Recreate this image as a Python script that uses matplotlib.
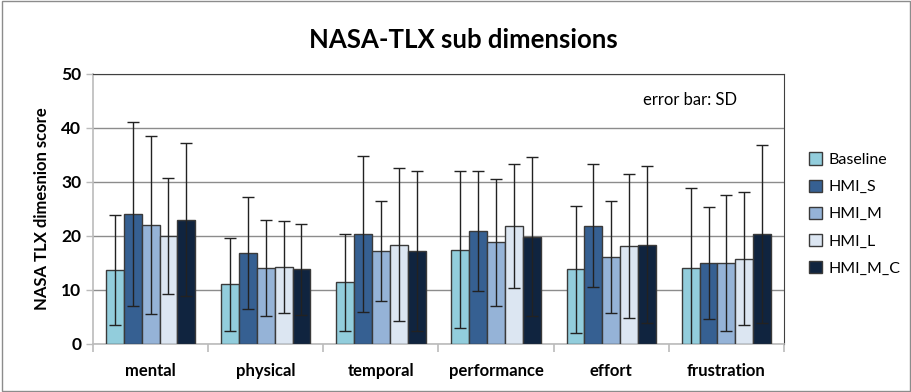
import matplotlib
matplotlib.use("Agg")
import matplotlib.pyplot as plt
import numpy as np
from matplotlib.patches import Rectangle

plt.rcParams['font.family'] = ['Lato', 'DejaVu Sans']

categories = ["mental", "physical", "temporal", "performance", "effort", "frustration"]
series = ["Baseline", "HMI_S", "HMI_M", "HMI_L", "HMI_M_C"]
means = {
    "Baseline": [13.7, 11.1, 11.4, 17.5, 13.8, 14.1],
    "HMI_S":    [24.1, 16.8, 20.4, 21.0, 21.9, 15.0],
    "HMI_M":    [22.0, 14.1, 17.2, 18.8, 16.1, 15.0],
    "HMI_L":    [20.0, 14.2, 18.4, 21.9, 18.1, 15.8],
    "HMI_M_C":  [23.0, 13.8, 17.2, 19.9, 18.4, 20.4],
}
sds = {
    "Baseline": [10.1, 8.6, 9.0, 14.5, 11.7, 14.8],
    "HMI_S":    [17.1, 10.4, 14.5, 11.1, 11.4, 10.4],
    "HMI_M":    [16.5, 8.9, 9.2, 11.8, 10.3, 12.6],
    "HMI_L":    [10.8, 8.5, 14.2, 11.5, 13.3, 12.3],
    "HMI_M_C":  [14.2, 8.5, 14.8, 14.7, 14.5, 16.5],
}
colors = ["#92CDDC", "#366092", "#95B3D7", "#DCE6F2", "#10243F"]

fig = plt.figure(figsize=(9.12, 3.92), dpi=100)
ax = fig.add_axes([93/912, 1-344/392, (784-93)/912, (344-74)/392])

x = np.arange(len(categories))
w = 0.155
for i, s in enumerate(series):
    pos = x + (i - 2) * w
    ax.bar(pos, means[s], width=w, color=colors[i], edgecolor="#3a3a3a",
           linewidth=1.0, label=s, zorder=3)
    ax.errorbar(pos, means[s], yerr=sds[s], fmt="none", ecolor="#222222",
                elinewidth=1.0, capsize=4, capthick=1.0, zorder=4)

ax.set_xlim(-0.5, len(categories) - 0.5)
ax.set_ylim(0, 50)
ax.set_yticks([0, 10, 20, 30, 40, 50])
ax.yaxis.grid(True, color="#8c8c8c", linewidth=1.0, zorder=0)
ax.set_axisbelow(True)
ax.tick_params(axis="y", labelsize=12.5, length=5, color="#bbbbbb", width=1)
for lbl in ax.get_yticklabels():
    lbl.set_fontweight("bold")
ax.set_xticks(x)
ax.set_xticklabels(categories, fontsize=12, fontweight="bold")
ax.tick_params(axis="x", length=0, pad=14)
ax.set_xticks(np.arange(-0.5, len(categories) + 0.5, 1.0), minor=True)
ax.tick_params(axis="x", which="minor", length=6, color="#bbbbbb", width=1.2)

ax.spines["left"].set_color("#bbbbbb")
ax.spines["left"].set_linewidth(1.2)
ax.spines["bottom"].set_color("#bbbbbb")
ax.spines["bottom"].set_linewidth(1.2)
ax.spines["top"].set_color("#404040")
ax.spines["right"].set_color("#404040")

ax.set_ylabel("NASA TLX dimesnion score", fontsize=12, fontweight="bold", labelpad=8)
ax.text((737-93)/691, 0.905, "error bar: SD", transform=ax.transAxes, ha="right",
        va="center", fontsize=12)

fig.text(463/912, 1-40/392, "NASA-TLX sub dimensions", ha="center", va="center",
         fontsize=18.5, fontweight="bold")

leg = fig.legend(loc="upper left", bbox_to_anchor=(803/912, 1-146/392), frameon=False,
                 fontsize=11.5, handlelength=0.8, handleheight=0.8,
                 labelspacing=0.78, handletextpad=0.4, borderaxespad=0)

fig.patches.append(Rectangle((0.002, 0.003), 0.996, 0.994, transform=fig.transFigure,
                             fill=False, edgecolor="#8c8c8c", linewidth=1.0))

fig.savefig("out.png", dpi=100)
